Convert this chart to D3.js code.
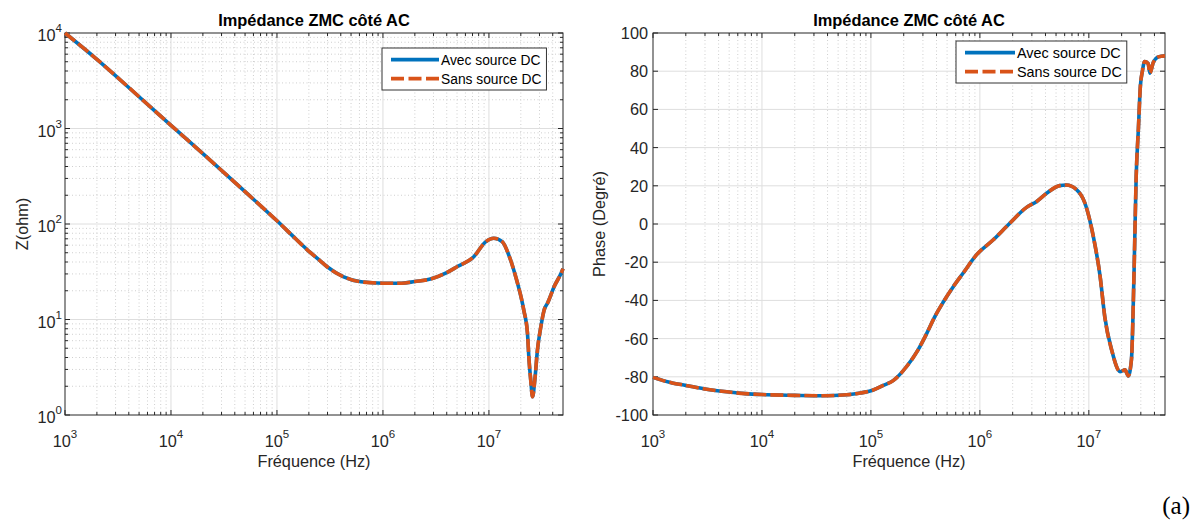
<!DOCTYPE html>
<html><head><meta charset="utf-8">
<script src="https://cdn.jsdelivr.net/npm/d3@7"></script>
<style>body{margin:0;background:#fff;} svg{display:block;}</style>
</head><body><svg id="c" width="1195" height="522"></svg>
<script>
// ---- data ----
const freqZ = [1e3, 2e3, 5e3, 1e4, 2e4, 5e4, 1e5, 1.5e5, 1.92e5, 2.5e5, 2.97e5, 4.26e5, 6.2e5, 1e6, 1.5e6, 2e6, 2.8e6, 4e6, 5e6, 7.2e6, 9.3e6, 1.11e7, 1.34e7, 1.54e7, 1.79e7, 2.13e7, 2.31e7, 2.39e7, 2.48e7, 2.58e7, 2.71e7, 2.87e7, 3.09e7, 3.32e7, 3.57e7, 4.12e7, 4.95e7, 5e7];
const zAvec = [10000, 5300, 2150, 1080, 545, 218, 108, 70, 54, 42, 35.7, 28, 24.8, 24, 24, 25, 26.5, 31, 35.7, 45.5, 65, 70.8, 65, 47.3, 28, 12.6, 7.2, 3.77, 2.32, 1.55, 2.32, 4.8, 8.4, 12.6, 14.8, 22, 33, 34];
const zSans = zAvec.slice();

const freqP = [1e3, 1.5e3, 2e3, 3e3, 5e3, 7e3, 1e4, 2e4, 3.5e4, 6e4, 8e4, 1.05e5, 1.3e5, 1.6e5, 2.1e5, 2.7e5, 3.24e5, 3.86e5, 4.6e5, 5.7e5, 7e5, 9.3e5, 1.32e6, 1.88e6, 2.68e6, 3.3e6, 4.1e6, 5.4e6, 6.2e6, 7.7e6, 9.2e6, 1.1e7, 1.27e7, 1.4e7, 1.62e7, 1.94e7, 2.15e7, 2.3e7, 2.46e7, 2.6e7, 2.72e7, 2.85e7, 2.97e7, 3.1e7, 3.25e7, 3.5e7, 3.63e7, 3.9e7, 4.35e7, 5e7];
const pAvec = [-80.3, -83.2, -84.5, -86.4, -88, -88.8, -89.3, -89.7, -89.9, -89.4, -88.5, -86.9, -84.5, -82, -75, -66, -57.5, -48.5, -41, -32.8, -25.8, -16.2, -8.4, 0.4, 8.7, 11.7, 16.1, 20.1, 20.4, 18, 11, -6.6, -27.6, -48.5, -66, -77.3, -76.4, -79.5, -71, -25, 25, 50, 72, 80, 85, 84, 79, 84.5, 87.5, 88];
const pSans = pAvec.slice();

const xDecades = [3, 4, 5, 6, 7];
const zDecades = [0, 1, 2, 3, 4];
const phaseTicks = [-100, -80, -60, -40, -20, 0, 20, 40, 60, 80, 100];
const seriesNames = ["Avec source DC", "Sans source DC"];
const titleText = "Impédance ZMC côté AC";
const xLabel = "Fréquence (Hz)";
const yLabels = ["Z(ohm)", "Phase (Degré)"];
const cornerLabel = "(a)";

// ---- drawing ----
const svg = d3.select("#c");
const FONT = "'Liberation Sans', Arial, Helvetica, sans-serif";
const AX = "#262626";
const BLUE = "#0072BD", ORANGE = "#D95319";
const MAJ = "#dedede", MIN = "#cfcfcf";
const TFS = 16.3, EFS = 11.5;

function minorLog(lo, hi) {
  const out = [];
  for (let d = Math.floor(Math.log10(lo)); d <= Math.ceil(Math.log10(hi)); d++)
    for (let k = 2; k <= 9; k++) { const v = k * Math.pow(10, d); if (v > lo && v < hi) out.push(v); }
  return out;
}

function panel(cfg) {
  const g = svg.append("g");
  const x = d3.scaleLog().domain([1e3, 5e7]).range([cfg.x0, cfg.x1]);
  const y = cfg.log ? d3.scaleLog().domain([1, 1e4]).range([cfg.y1, cfg.y0])
                    : d3.scaleLinear().domain([-100, 100]).range([cfg.y1, cfg.y0]);
  const xMaj = xDecades.map(d => Math.pow(10, d));
  const xMin = minorLog(1e3, 5e7);
  const yMaj = cfg.log ? zDecades.map(d => Math.pow(10, d)) : phaseTicks;
  const yMin = cfg.log ? minorLog(1, 1e4) : [];

  // minor grid
  g.selectAll(".xmg").data(xMin).join("line")
    .attr("x1", d => x(d)).attr("x2", d => x(d)).attr("y1", cfg.y0).attr("y2", cfg.y1)
    .attr("stroke", MIN).attr("stroke-width", 1).attr("stroke-dasharray", "1,2.5");
  g.selectAll(".ymg").data(yMin).join("line")
    .attr("y1", d => y(d)).attr("y2", d => y(d)).attr("x1", cfg.x0).attr("x2", cfg.x1)
    .attr("stroke", MIN).attr("stroke-width", 1).attr("stroke-dasharray", "1,2.5");
  // major grid
  g.selectAll(".xg").data(xMaj.slice(1)).join("line")
    .attr("x1", d => x(d)).attr("x2", d => x(d)).attr("y1", cfg.y0).attr("y2", cfg.y1)
    .attr("stroke", MAJ).attr("stroke-width", 1);
  g.selectAll(".yg").data(yMaj.filter(v => y(v) > cfg.y0 + 1 && y(v) < cfg.y1 - 1)).join("line")
    .attr("y1", d => y(d)).attr("y2", d => y(d)).attr("x1", cfg.x0).attr("x2", cfg.x1)
    .attr("stroke", MAJ).attr("stroke-width", 1);

  // box
  g.append("rect").attr("x", cfg.x0).attr("y", cfg.y0).attr("width", cfg.x1 - cfg.x0).attr("height", cfg.y1 - cfg.y0)
    .attr("fill", "none").attr("stroke", AX).attr("stroke-width", 1);

  // ticks (inward)
  const tk = (vals, len) => {
    vals.forEach(v => {
      const xv = x(v);
      g.append("line").attr("x1", xv).attr("x2", xv).attr("y1", cfg.y1).attr("y2", cfg.y1 - len).attr("stroke", AX);
      g.append("line").attr("x1", xv).attr("x2", xv).attr("y1", cfg.y0).attr("y2", cfg.y0 + len).attr("stroke", AX);
    });
  };
  tk(xMaj, 5); tk(xMin, 3);
  const tky = (vals, len) => {
    vals.forEach(v => {
      const yv = y(v);
      g.append("line").attr("y1", yv).attr("y2", yv).attr("x1", cfg.x0).attr("x2", cfg.x0 + len).attr("stroke", AX);
      g.append("line").attr("y1", yv).attr("y2", yv).attr("x1", cfg.x1).attr("x2", cfg.x1 - len).attr("stroke", AX);
    });
  };
  tky(yMaj, 5); tky(yMin, 3);

  // x tick labels
  xDecades.forEach(d => {
    const t = g.append("text").attr("x", x(Math.pow(10, d))).attr("y", cfg.y1 + 32)
      .attr("text-anchor", "middle").attr("font-family", FONT).attr("font-size", TFS).attr("fill", AX);
    t.append("tspan").text("10");
    t.append("tspan").attr("dy", -9).attr("font-size", EFS).text(d);
  });
  // y tick labels
  if (cfg.log) {
    zDecades.forEach(d => {
      const t = g.append("text").attr("x", cfg.x0 - 3).attr("y", y(Math.pow(10, d)) + 8)
        .attr("text-anchor", "end").attr("font-family", FONT).attr("font-size", TFS).attr("fill", AX);
      t.append("tspan").text("10");
      t.append("tspan").attr("dy", -9).attr("font-size", EFS).text(d);
    });
  } else {
    phaseTicks.forEach(v => {
      g.append("text").attr("x", cfg.x0 - 5).attr("y", y(v) + 6)
        .attr("text-anchor", "end").attr("font-family", FONT).attr("font-size", TFS).attr("fill", AX).text(v);
    });
  }

  // title & labels
  const cx = (cfg.x0 + cfg.x1) / 2;
  g.append("text").attr("x", cx).attr("y", 26).attr("text-anchor", "middle")
    .attr("font-family", FONT).attr("font-size", 16.4).attr("font-weight", "bold").attr("fill", "#000").text(titleText);
  g.append("text").attr("x", cx).attr("y", cfg.y1 + 52).attr("text-anchor", "middle")
    .attr("font-family", FONT).attr("font-size", TFS).attr("fill", AX).text(xLabel);
  g.append("text").attr("transform", `translate(${cfg.ylx},${(cfg.y0 + cfg.y1) / 2}) rotate(-90)`)
    .attr("text-anchor", "middle").attr("font-family", FONT).attr("font-size", TFS).attr("fill", AX).text(cfg.ylabel);

  // series
  const line = d3.line().x(d => x(d[0])).y(d => y(d[1])).curve(d3.curveMonotoneX);
  const dA = cfg.fx.map((f, i) => [f, cfg.va[i]]);
  const dS = cfg.fx.map((f, i) => [f, cfg.vs[i]]);
  g.append("path").attr("d", line(dA)).attr("fill", "none").attr("stroke", BLUE).attr("stroke-width", 3.6)
    .attr("stroke-linejoin", "round");
  g.append("path").attr("d", line(dS)).attr("fill", "none").attr("stroke", ORANGE).attr("stroke-width", 3.6)
    .attr("stroke-dasharray", "13,4").attr("stroke-linejoin", "round");

  // legend
  const lg = g.append("g").attr("transform", `translate(${cfg.lx},${cfg.ly})`);
  const box = lg.append("rect").attr("x", 0).attr("y", 0).attr("height", 42).attr("fill", "#fff")
    .attr("stroke", "#333").attr("stroke-width", 1);
  let maxW = 0;
  const tx = 9 + cfg.lsLen + 2;
  seriesNames.forEach((n, i) => {
    const yy = 11.6 + i * 19;
    lg.append("line").attr("x1", 9).attr("x2", 9 + cfg.lsLen).attr("y1", yy).attr("y2", yy)
      .attr("stroke", i === 0 ? BLUE : ORANGE).attr("stroke-width", 3.6)
      .attr("stroke-dasharray", i === 0 ? null : "13,4.5");
    const t = lg.append("text").attr("x", tx).attr("y", yy + 5).attr("font-family", FONT).attr("font-size", cfg.lfs)
      .attr("fill", "#000").text(n);
    maxW = Math.max(maxW, t.node().getComputedTextLength());
  });
  box.attr("width", tx + maxW + 5);
}

panel({ x0: 65, x1: 563, y0: 33, y1: 415, log: true, fx: freqZ, va: zAvec, vs: zSans,
        ylabel: yLabels[0], ylx: 28, lx: 382, ly: 48, lfs: 13.8, lsLen: 48 });
panel({ x0: 653, x1: 1165, y0: 33, y1: 415, log: false, fx: freqP, va: pAvec, vs: pSans,
        ylabel: yLabels[1], ylx: 605, lx: 956, ly: 41, lfs: 14.4, lsLen: 50 });

svg.append("text").attr("x", 1190).attr("y", 514).attr("text-anchor", "end")
  .attr("font-family", "'Liberation Serif', 'DejaVu Serif', 'Times New Roman', serif").attr("font-size", 25).attr("fill", "#000").text(cornerLabel);
</script></body></html>
